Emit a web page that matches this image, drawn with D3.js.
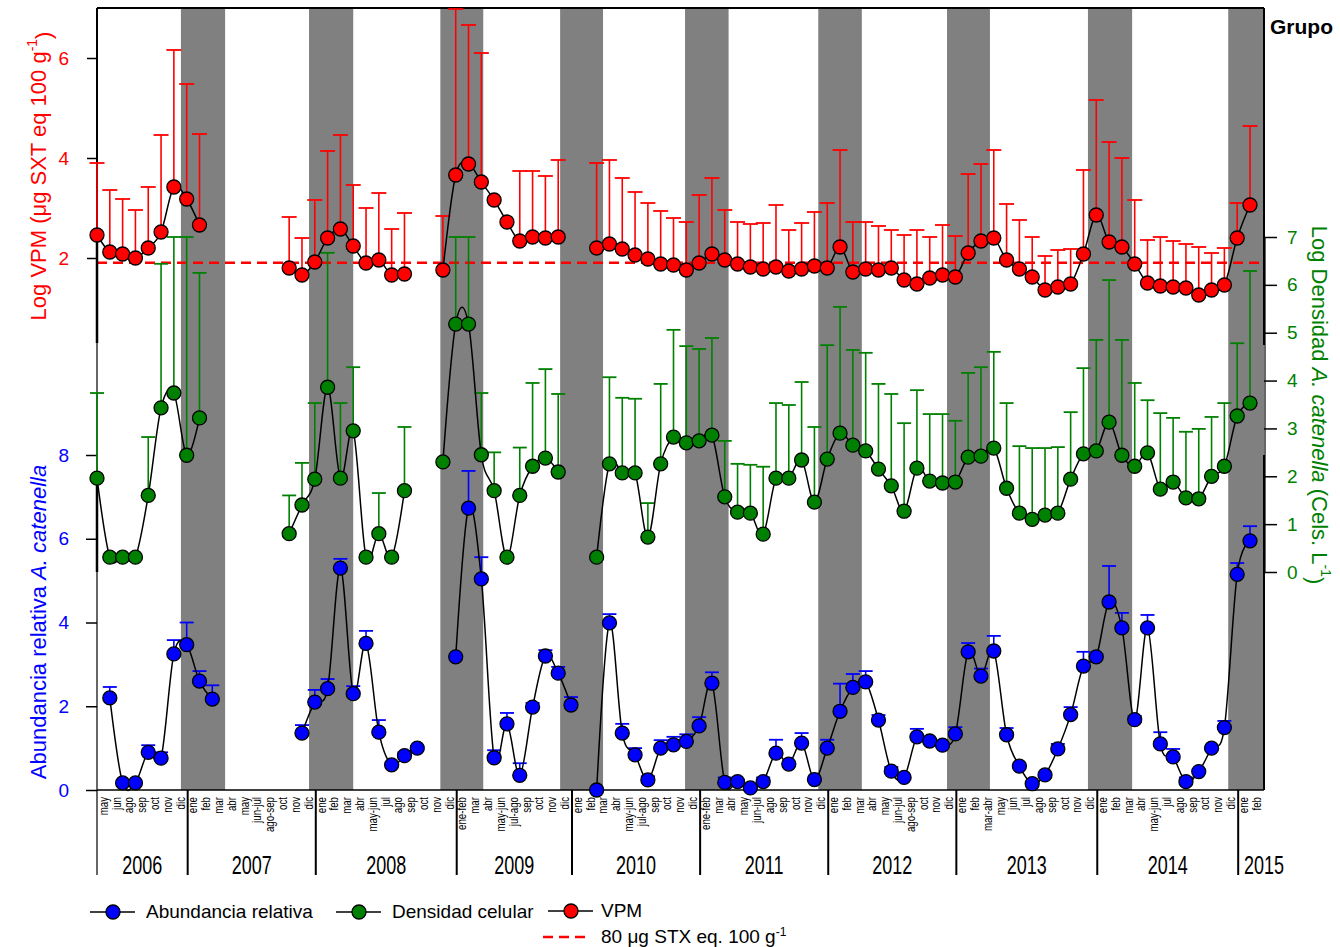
<!DOCTYPE html>
<html>
  <head>
    <meta charset="utf-8">
    <title>A. catenella - VPM</title>
    <script src="https://d3js.org/d3.v7.min.js"></script>
    <style>
      body { margin: 0; background: #fff; }
      text { font-family: "Liberation Sans", Arial, sans-serif; }
      .tick text { font-size: 19px; }
    </style>
  </head>
  <body>
    <script>
      // sampling months, grouped by year
      const years = ["2006", "2007", "2008", "2009", "2010", "2011", "2012", "2013", "2014", "2015"];
      const monthsPerYear = [
        ["may", "jun", "ago", "sep", "oct", "nov", "dic"],
        ["ene", "feb", "mar", "abr", "may", "jun-jul", "ago-sep", "oct", "nov", "dic"],
        ["ene", "feb", "mar", "abr", "may-jun", "jul", "ago", "sep", "oct", "nov", "dic"],
        ["ene-feb", "mar", "abr", "may-jun", "jul-ago", "sep", "oct", "nov", "dic"],
        ["ene", "feb", "mar", "abr", "may-jun", "jul-ago", "sep", "oct", "nov", "dic"],
        ["ene-feb", "mar", "abr", "may", "jun-jul", "ago", "sep", "oct", "nov", "dic"],
        ["ene", "feb", "mar", "abr", "may", "jun-jul", "ago-sep", "oct", "nov", "dic"],
        ["ene", "feb", "mar-abr", "may", "jun", "jul", "ago", "sep", "oct", "nov", "dic"],
        ["ene", "feb", "mar", "abr", "may-jun", "jul", "ago", "sep", "oct", "nov", "dic"],
        ["ene", "feb"]
      ];

      // summer shading, in sample-index units
      const summerBands = [[6.55, 10], [16.55, 20], [26.8, 30.15], [36.15, 39.5], [45.9, 49.3],
                           [56.3, 59.7], [66.35, 69.7], [77.35, 80.8], [88.3, 91.2]];

      // Log VPM (left top axis)
      const vpm = [2.46, 2.12, 2.08, 2.0, 2.2, 2.52, 3.42,
        3.18, 2.66, null, null, null, null, null, null, 1.8, 1.66,
        1.92, 2.4, 2.58, 2.24, 1.9, 1.96, 1.66, 1.68, null, null, 1.76,
        3.66, 3.88, 3.52, 3.16, 2.72, 2.34, 2.42, 2.4, 2.42,
        null, null, 2.2, 2.28, 2.18, 2.06, 1.98, 1.88, 1.86, 1.76,
        1.9, 2.08, 1.96, 1.88, 1.82, 1.78, 1.82, 1.74, 1.78, 1.84,
        1.8, 2.22, 1.72, 1.78, 1.76, 1.8, 1.56, 1.48, 1.6, 1.66,
        1.62, 2.1, 2.34, 2.4, 1.96, 1.78, 1.62, 1.36, 1.42, 1.48, 2.08,
        2.86, 2.32, 2.22, 1.88, 1.5, 1.44, 1.42, 1.4, 1.26, 1.36, 1.46,
        2.4, 3.06];
      const vpmHi = [3.9, 3.36, 3.18, 2.96, 3.42, 4.46, 6.16,
        5.48, 4.48, null, null, null, null, null, null, 2.82, 2.4,
        3.16, 4.14, 4.46, 3.46, 3.0, 3.3, 2.58, 2.9, null, null, 2.84,
        6.98, 6.66, 6.1, null, null, 3.74, 3.74, 3.64, 3.96,
        null, null, 3.9, 3.96, 3.6, 3.32, 3.1, 2.94, 2.8, 2.72,
        3.26, 3.6, 2.96, 2.72, 2.68, 2.7, 3.06, 2.56, 2.7, 2.92,
        3.1, 4.16, 2.72, 2.72, 2.64, 2.56, 2.46, 2.56, 2.42, 2.66,
        2.44, 3.68, 3.88, 4.16, 3.08, 2.76, 2.42, 2.04, 2.16, 2.18, 3.76,
        5.16, 4.32, 4.0, 3.16, 2.36, 2.42, 2.34, 2.28, 2.22, 2.1, 2.2,
        3.1, 4.64];
      const vpmLo = [0.3];
      const vpmLimit = Math.log10(80);

      // Log density A. catenella (right axis)
      const dens = [1.96, 0.31, 0.31, 0.31, 1.6, 3.43, 3.74,
        2.44, 3.22, null, null, null, null, null, null, 0.8, 1.4,
        1.94, 3.86, 1.96, 2.95, 0.31, 0.8, 0.31, 1.7, null, null, 2.3,
        5.18, 5.18, 2.45, 1.7, 0.31, 1.6, 2.21, 2.38, 2.09,
        null, null, 0.31, 2.26, 2.07, 2.07, 0.73, 2.26, 2.82, 2.7,
        2.74, 2.86, 1.57, 1.25, 1.23, 0.79, 1.96, 1.96, 2.34, 1.46,
        2.36, 2.9, 2.65, 2.53, 2.15, 1.8, 1.27, 2.17, 1.9, 1.86,
        1.88, 2.4, 2.42, 2.59, 1.75, 1.23, 1.1, 1.19, 1.23, 1.94, 2.47,
        2.53, 3.13, 2.44, 2.21, 2.49, 1.73, 1.88, 1.55, 1.53, 2.0, 2.21,
        3.26, 3.53];
      const densHi = [3.74, null, null, null, 2.82, 6.44, 7.0,
        7.0, 6.25, null, null, null, null, null, null, 1.6, 2.28,
        3.53, 6.67, 3.53, 4.28, null, 1.65, null, 3.03, null, null, null,
        7.0, 7.0, 3.74, 2.5, null, 2.6, 3.95, 4.24, 3.72,
        null, null, null, 4.07, 3.64, 3.62, 1.44, 3.93, 5.06, 4.72,
        4.66, 4.89, 2.74, 2.26, 2.24, 2.2, 3.53, 3.49, 3.97, 3.03,
        4.74, 5.54, 4.64, 4.58, 3.93, 3.72, 3.11, 3.8, 3.3, 3.3,
        3.16, 4.16, 4.28, 4.6, 3.53, 2.63, 2.59, 2.59, 2.61, 3.34, 4.26,
        4.85, 6.1, 4.85, 3.95, 3.59, 3.32, 3.22, 2.93, 2.99, 3.24, 3.53,
        4.78, 6.29];
      const densLo = [0];

      // relative abundance A. catenella (left bottom axis)
      const abund = [null, 2.2, 0.17, 0.17, 0.9, 0.76, 3.25,
        3.47, 2.6, 2.17, null, null, null, null, null, null, 1.36,
        2.1, 2.42, 5.3, 2.3, 3.5, 1.38, 0.6, 0.82, 1.0, null, null,
        3.18, 6.73, 5.04, 0.77, 1.58, 0.35, 1.98, 3.2, 2.79,
        2.03, null, 0, 3.99, 1.36, 0.84, 0.24, 1.0, 1.08, 1.16,
        1.53, 2.55, 0.18, 0.2, 0.05, 0.2, 0.88, 0.62, 1.12, 0.25,
        1.0, 1.88, 2.45, 2.58, 1.67, 0.45, 0.3, 1.27, 1.17, 1.07,
        1.34, 3.3, 2.72, 3.32, 1.32, 0.57, 0.15, 0.36, 0.98, 1.8, 2.96,
        3.18, 4.49, 3.87, 1.68, 3.87, 1.1, 0.79, 0.2, 0.44, 1.0, 1.49,
        5.15, 5.95];
      const abundHi = [null, 2.46, null, null, 1.07, 0.9, 3.58,
        4.0, 2.84, 2.5, null, null, null, null, null, null, 1.55,
        2.39, 2.65, 5.52, 2.48, 3.8, 1.67, null, 0.9, 1.05, null, null,
        null, 7.62, 5.56, 0.95, 1.84, 0.64, 2.08, 3.34, 2.94,
        2.22, null, null, 4.2, 1.58, 1.0, 0.33, 1.19, 1.27, 1.33,
        1.74, 2.81, 0.3, null, null, 0.3, 1.2, null, 1.36, null,
        1.2, 2.54, 2.77, 2.84, 1.79, 0.55, 0.35, 1.46, 1.2, 1.1,
        1.5, 3.51, 2.9, 3.68, 1.48, null, null, null, 1.1, 1.98, 3.3,
        3.25, 5.35, 4.23, 1.77, 4.18, 1.38, 0.98, 0.3, null, null, 1.65,
        5.42, 6.3];

      const months = monthsPerYear.flat();
      const yearStart = [];
      monthsPerYear.reduce((acc, m) => { yearStart.push(acc); return acc + m.length; }, 0);

      const width = 1340, height = 947;
      const pLeft = 97, pRight = 1264, pTop = 8, pBottom = 790;
      const narrow = 0.72; // mimic a condensed face

      const svg = d3.select("body").append("svg")
        .attr("width", width).attr("height", height);

      const x = d3.scaleLinear().domain([0, months.length - 1]).range([97, 1250]);
      const yVpm = d3.scaleLinear().domain([0, 7]).range([358, 8]);
      const yDens = d3.scaleLinear().domain([0, 7]).range([572, 237]);
      const yAbund = d3.scaleLinear().domain([0, 8]).range([790, 455]);

      // gray bands
      svg.append("g").selectAll("rect")
        .data(summerBands)
        .join("rect")
        .attr("x", d => x(d[0]))
        .attr("width", d => Math.min(x(d[1]), pRight) - x(d[0]))
        .attr("y", pTop)
        .attr("height", pBottom - pTop)
        .attr("fill", "#808080");

      // 80 ug limit
      svg.append("line")
        .attr("x1", pLeft).attr("x2", pRight)
        .attr("y1", yVpm(vpmLimit)).attr("y2", yVpm(vpmLimit))
        .attr("stroke", "#ff0000").attr("stroke-width", 2.5)
        .attr("stroke-dasharray", "10,6");

      // frame
      const frame = svg.append("g").attr("stroke", "#000");
      frame.append("line").attr("x1", pLeft).attr("x2", pRight).attr("y1", pTop).attr("y2", pTop).attr("stroke-width", 2);
      frame.append("line").attr("x1", pLeft).attr("x2", pRight).attr("y1", pBottom).attr("y2", pBottom).attr("stroke-width", 1.5);
      frame.append("line").attr("x1", pLeft).attr("x2", pLeft).attr("y1", pTop).attr("y2", 875).attr("stroke-width", 1.2);
      frame.append("line").attr("x1", pLeft).attr("x2", pLeft).attr("y1", pTop).attr("y2", 343).attr("stroke-width", 2);
      frame.append("line").attr("x1", pRight).attr("x2", pRight).attr("y1", pTop).attr("y2", 345).attr("stroke-width", 2);
      frame.append("line").attr("x1", pRight).attr("x2", pRight).attr("y1", 455).attr("y2", pBottom).attr("stroke-width", 2);
      frame.append("line").attr("x1", pRight + 1).attr("x2", pRight + 1).attr("y1", yDens(7)).attr("y2", yDens(0)).attr("stroke-width", 1.2);

      // axes
      function styleAxis(g, color) {
        g.select(".domain").remove();
        g.selectAll(".tick line").attr("stroke", "#000").attr("stroke-width", 1.5);
        g.selectAll(".tick text").attr("fill", color);
      }
      svg.append("g").attr("transform", `translate(${pLeft},0)`)
        .call(d3.axisLeft(yVpm).tickValues([2, 4, 6]).tickFormat(d3.format("d")).tickSize(10).tickPadding(18))
        .call(g => styleAxis(g, "#ff0000"));
      svg.append("g").attr("transform", `translate(${pLeft},0)`)
        .call(d3.axisLeft(yAbund).tickValues([0, 2, 4, 6, 8]).tickFormat(d3.format("d")).tickSize(11).tickPadding(17))
        .call(g => styleAxis(g, "#0000ff"));
      svg.append("g").attr("transform", `translate(${pRight},0)`)
        .call(d3.axisRight(yDens).tickValues(d3.range(0, 8)).tickFormat(d3.format("d")).tickSize(13).tickPadding(10))
        .call(g => styleAxis(g, "#008000"));

      // month labels
      svg.append("g").selectAll("text")
        .data(months)
        .join("text")
        .attr("transform", (d, i) => `translate(${x(i) + 6},797) rotate(-90) scale(${narrow},1)`)
        .attr("dy", "0.35em")
        .attr("text-anchor", "end")
        .attr("font-size", 13.5)
        .text(d => d);

      // year dividers and labels
      const yearEnds = yearStart.slice(1).map(s => x(s) + 1);
      svg.append("g").selectAll("line")
        .data(yearEnds)
        .join("line")
        .attr("x1", d => d).attr("x2", d => d)
        .attr("y1", pBottom).attr("y2", 875)
        .attr("stroke", "#000").attr("stroke-width", 2);
      const bounds = [pLeft, ...yearEnds, x(months.length - 1) + 40];
      svg.append("g").selectAll("text")
        .data(years)
        .join("text")
        .attr("transform", (d, i) => `translate(${(bounds[i] + bounds[i + 1]) / 2},874) scale(${narrow},1)`)
        .attr("text-anchor", "middle")
        .attr("font-size", 25)
        .text(d => d);

      // series
      const curve = d3.curveCardinal.tension(0);
      function drawSeries(vals, hi, lo, y, color, capW) {
        const g = svg.append("g");
        const pts = vals.map((v, i) => ({ i, v, h: hi[i], l: lo[i] })).filter(d => d.v != null);
        const bars = pts.filter(d => d.h != null);
        g.selectAll(".bar").data(bars).join("line")
          .attr("x1", d => x(d.i)).attr("x2", d => x(d.i))
          .attr("y1", d => y(d.v)).attr("y2", d => y(d.h))
          .attr("stroke", color).attr("stroke-width", 1.6);
        g.selectAll(".cap").data(bars).join("line")
          .attr("x1", d => x(d.i) - capW).attr("x2", d => x(d.i) + capW)
          .attr("y1", d => y(d.h)).attr("y2", d => y(d.h))
          .attr("stroke", color).attr("stroke-width", 1.8);
        g.selectAll(".low").data(pts.filter(d => d.l != null)).join("line")
          .attr("x1", d => x(d.i)).attr("x2", d => x(d.i))
          .attr("y1", d => y(d.v)).attr("y2", d => y(d.l))
          .attr("stroke", "#000").attr("stroke-width", 2.5);
        g.append("path")
          .datum(vals)
          .attr("fill", "none")
          .attr("stroke", "#000")
          .attr("stroke-width", 1.5)
          .attr("d", d3.line().defined(d => d != null).x((d, i) => x(i)).y(d => y(d)).curve(curve));
        g.selectAll("circle").data(pts).join("circle")
          .attr("cx", d => x(d.i)).attr("cy", d => y(d.v)).attr("r", 7)
          .attr("fill", color).attr("stroke", "#000").attr("stroke-width", 1.3);
      }
      drawSeries(abund, abundHi, [], yAbund, "#0000ff", 7);
      drawSeries(dens, densHi, densLo, yDens, "#008000", 7);
      drawSeries(vpm, vpmHi, vpmLo, yVpm, "#ff0000", 7.5);

      // axis titles
      const t1 = svg.append("text")
        .attr("transform", "translate(38,176) rotate(-90)")
        .attr("dy", "0.35em")
        .attr("text-anchor", "middle")
        .attr("font-size", 22)
        .attr("fill", "#ff0000");
      t1.append("tspan").text("Log VPM (μg SXT eq 100 g");
      t1.append("tspan").attr("dy", "-0.6em").attr("font-size", 14).text("-1");
      t1.append("tspan").attr("dy", "0.6em").text(")");

      const t2 = svg.append("text")
        .attr("transform", "translate(38,622) rotate(-90)")
        .attr("dy", "0.35em")
        .attr("text-anchor", "middle")
        .attr("font-size", 22)
        .attr("fill", "#0000ff");
      t2.append("tspan").text("Abundancia relativa  ");
      t2.append("tspan").attr("font-style", "italic").text("A. catenella");

      const t3 = svg.append("text")
        .attr("transform", "translate(1320,405) rotate(90)")
        .attr("dy", "0.35em")
        .attr("text-anchor", "middle")
        .attr("font-size", 22)
        .attr("fill", "#008000");
      t3.append("tspan").text("Log Densidad ");
      t3.append("tspan").attr("font-style", "italic").text("A. catenella");
      t3.append("tspan").text(" (Cels. L");
      t3.append("tspan").attr("dy", "-0.6em").attr("font-size", 14).text("-1");
      t3.append("tspan").attr("dy", "0.6em").text(")");

      svg.append("text")
        .attr("x", 1270).attr("y", 34)
        .attr("font-weight", "bold")
        .attr("font-size", 21)
        .text("Grupo");

      // legend
      const legendItems = [
        { label: "Abundancia relativa", color: "#0000ff", x: 90, y: 912 },
        { label: "Densidad celular", color: "#008000", x: 336, y: 912 },
        { label: "VPM", color: "#ff0000", x: 548, y: 911 }
      ];
      const lg = svg.append("g");
      legendItems.forEach(d => {
        lg.append("line").attr("x1", d.x).attr("x2", d.x + 45).attr("y1", d.y).attr("y2", d.y)
          .attr("stroke", "#000").attr("stroke-width", 1.5);
        lg.append("circle").attr("cx", d.x + 23).attr("cy", d.y).attr("r", 7)
          .attr("fill", d.color).attr("stroke", "#000").attr("stroke-width", 1.3);
        lg.append("text").attr("x", d.x + (d.label === "VPM" ? 53 : 56)).attr("y", d.y + 6)
          .attr("font-size", 19).text(d.label);
      });
      lg.append("line").attr("x1", 543).attr("x2", 586).attr("y1", 937).attr("y2", 937)
        .attr("stroke", "#ff0000").attr("stroke-width", 2.5).attr("stroke-dasharray", "10,6");
      const lt = lg.append("text").attr("x", 601).attr("y", 943).attr("font-size", 19);
      lt.append("tspan").text("80 μg STX eq. 100 g");
      lt.append("tspan").attr("dy", "-0.6em").attr("font-size", 12).text("-1");
    </script>
  </body>
</html>
